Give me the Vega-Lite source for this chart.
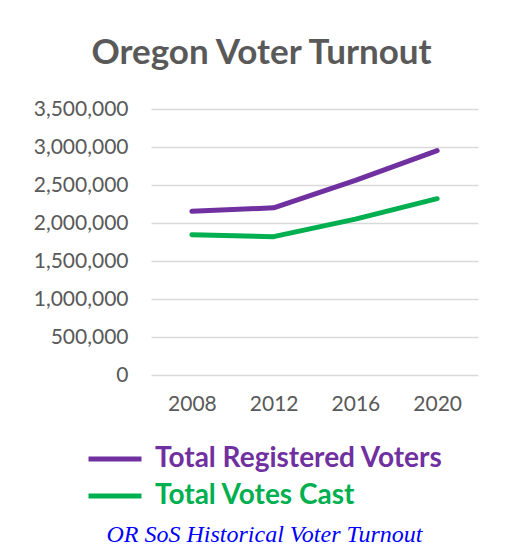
{
  "$schema": "https://vega.github.io/schema/vega-lite/v6.json",
  "width": 327,
  "height": 266,
  "autosize": {"type": "none"},
  "padding": {"left": 151, "top": 109, "right": 35, "bottom": 171},
  "background": "white",
  "title": {
    "text": "Oregon Voter Turnout",
    "font": "Lato",
    "fontSize": 35,
    "fontWeight": "bold",
    "color": "#595959",
    "anchor": "middle",
    "baseline": "alphabetic",
    "offset": -1,
    "dx": -53
  },
  "config": {
    "view": {"stroke": null},
    "font": "Lato"
  },
  "data": {
    "values": [
      {"year": "2008", "series": "Total Registered Voters", "voters": 2153914},
      {"year": "2012", "series": "Total Registered Voters", "voters": 2199360},
      {"year": "2016", "series": "Total Registered Voters", "voters": 2559560},
      {"year": "2020", "series": "Total Registered Voters", "voters": 2951488},
      {"year": "2008", "series": "Total Votes Cast", "voters": 1845251},
      {"year": "2012", "series": "Total Votes Cast", "voters": 1820507},
      {"year": "2016", "series": "Total Votes Cast", "voters": 2051452},
      {"year": "2020", "series": "Total Votes Cast", "voters": 2320000}
    ]
  },
  "mark": {"type": "line", "strokeWidth": 5, "strokeCap": "round", "strokeJoin": "round"},
  "encoding": {
    "x": {
      "field": "year",
      "type": "ordinal",
      "scale": {"type": "point", "padding": 0.5},
      "axis": {
        "title": "OR SoS Historical Voter Turnout",
        "titleFont": "Liberation Serif",
        "titleFontStyle": "italic",
        "titleFontWeight": "normal",
        "titleFontSize": 24,
        "titleColor": "#0000FF",
        "titleX": 113,
        "titleY": 166,
        "titleAlign": "center",
        "titleBaseline": "alphabetic",
        "labelAngle": 0,
        "labelFontSize": 21,
        "labelColor": "#595959",
        "labelPadding": 18,
        "ticks": false,
        "domain": false,
        "grid": false
      }
    },
    "y": {
      "field": "voters",
      "type": "quantitative",
      "scale": {"domain": [0, 3500000], "nice": false},
      "axis": {
        "title": null,
        "values": [0, 500000, 1000000, 1500000, 2000000, 2500000, 3000000, 3500000],
        "format": ",d",
        "labelFontSize": 21,
        "labelColor": "#595959",
        "labelPadding": 23,
        "ticks": false,
        "domain": false,
        "grid": true,
        "gridColor": "#d9d9d9",
        "gridWidth": 1.5
      }
    },
    "color": {
      "field": "series",
      "type": "nominal",
      "scale": {"domain": ["Total Registered Voters", "Total Votes Cast"], "range": ["#7030A0", "#00B050"]},
      "legend": {
        "title": null,
        "orient": "none",
        "legendX": -50,
        "legendY": 336,
        "direction": "vertical",
        "padding": 0,
        "symbolType": "M-3,0H3",
        "symbolSize": 312,
        "symbolStrokeWidth": 5,
        "labelFontSize": 28,
        "labelFontWeight": "bold",
        "labelColor": {"expr": "datum.value == 'Total Votes Cast' ? '#00B050' : '#7030A0'"},
        "labelOffset": 26,
        "rowPadding": 9,
        "labelLimit": 400
      }
    }
  }
}
